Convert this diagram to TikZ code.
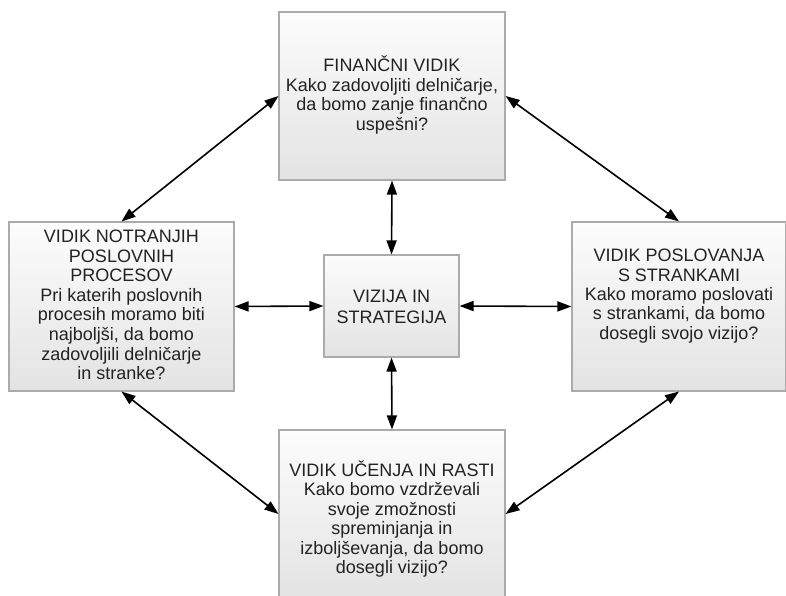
\documentclass[tikz,border=0pt]{standalone}
\usepackage{fontspec}
\setmainfont{Liberation Sans}
\usetikzlibrary{arrows.meta}
\definecolor{txt}{HTML}{222222}
\definecolor{edgegray}{HTML}{ABABAB}
\tikzset{
  panel/.style={draw=edgegray, line width=1.1pt, top color=white!99!black, bottom color=black!11, inner sep=0pt},
  words/.style={align=center, text=txt, inner sep=0pt, font=\fontsize{18}{19.4}\selectfont},
  conn/.style={{Triangle[length=14pt,width=10pt]}-{Triangle[length=14pt,width=10pt]}, line width=1.6pt, black}
}
\begin{document}
\begin{tikzpicture}[x=1pt,y=-1pt]
\useasboundingbox (0,0) rectangle (786,596);
\fill[white] (0,0) rectangle (786,596);
\begin{scope}
\clip (0,0) rectangle (786,596);
\node[panel, minimum width=226pt, minimum height=168pt] (fin) at (392,96) {};
\node[panel, minimum width=225pt, minimum height=169pt] (proc) at (121.5,306.5) {};
\node[panel, minimum width=214pt, minimum height=169pt] (cust) at (679,306.5) {};
\node[panel, minimum width=135pt, minimum height=102pt] (vis) at (391.5,306) {};
\node[panel, minimum width=226pt, minimum height=168pt] (learn) at (392,514) {};
\end{scope}
\node[words] (fint) at (392,95) {FINANČNI VIDIK\\Kako zadovoljiti delničarje,\\da bomo zanje finančno\\uspešni?};
\node[words, font=\fontsize{18}{19.6}\selectfont] (proct) at (121.5,305) {VIDIK NOTRANJIH\\POSLOVNIH\\PROCESOV\\Pri katerih poslovnih\\procesih moramo biti\\najboljši, da bomo\\zadovoljili delničarje\\in stranke?};
\node[words] (custt) at (679,296) {VIDIK POSLOVANJA\\S STRANKAMI\\Kako moramo poslovati\\s strankami, da bomo\\dosegli svojo vizijo?};
\node[words, font=\fontsize{18}{21}\selectfont] (vist) at (391.5,307) {VIZIJA IN\\STRATEGIJA};
\node[words] (learnt) at (392,519) {VIDIK UČENJA IN RASTI\\Kako bomo vzdrževali\\svoje zmožnosti\\spreminjanja in\\izboljševanja, da bomo\\dosegli vizijo?};
\draw[conn] (fin.south) -- (vis.north);
\draw[conn] (vis.south) -- (learn.north);
\draw[conn] (proc.east) -- (vis.west);
\draw[conn] (vis.east) -- (cust.west);
\draw[conn] (proc.north) -- (fin.west);
\draw[conn] (fin.east) -- (cust.north);
\draw[conn] (proc.south) -- (learn.west);
\draw[conn] (learn.east) -- (cust.south);
\end{tikzpicture}
\end{document}
